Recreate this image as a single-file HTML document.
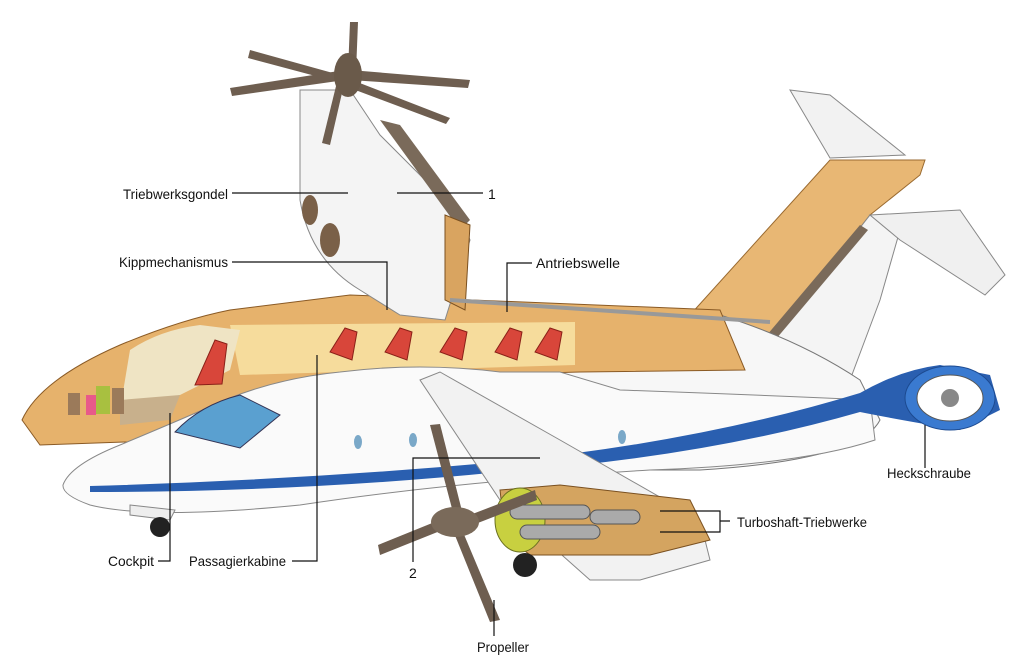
<!DOCTYPE html>
<html><head><meta charset="utf-8"><style>
html,body{margin:0;padding:0;background:#fff}
svg{display:block}
text{font-family:"Liberation Sans",sans-serif;font-size:14px;fill:#111}
</style></head><body>
<svg width="1024" height="660" viewBox="0 0 1024 660" xmlns="http://www.w3.org/2000/svg">
<!-- tail fin -->
<path d="M690 315 L830 160 L925 160 L920 175 L870 215 L760 355 Z" fill="#e8b774" stroke="#9a6a30"/>
<path d="M760 355 L870 215 L900 230 L880 300 L850 380 Z" fill="#f4f4f4" stroke="#888"/>
<path d="M790 90 L830 95 L905 155 L830 158 Z" fill="#f2f2f2" stroke="#888"/>
<path d="M750 355 L860 225 L868 230 L760 358 Z" fill="#7a6a5a"/>
<path d="M870 215 L960 210 L1005 275 L985 295 L900 240 Z" fill="#f0f0f0" stroke="#888"/>
<!-- rear fuselage -->
<path d="M330 330 L720 315 Q800 340 860 380 L880 420 Q860 460 700 470 L400 470 Z" fill="#f7f7f7" stroke="#777"/>
<!-- cutaway cabin -->
<path d="M22 420 Q40 380 120 345 Q180 320 230 310 L350 295 L720 310 L745 370 L580 372 L300 380 Q230 400 180 440 L40 445 Z" fill="#e6b26c" stroke="#8a5a25"/>
<path d="M230 325 L575 322 L575 365 L240 375 Z" fill="#f6dc9c"/>
<path d="M130 350 Q160 330 200 325 L240 330 L230 370 L180 395 L120 410 Z" fill="#efe4c4"/>
<path d="M120 400 L180 395 L170 420 L120 425 Z" fill="#c8b08c"/>
<g fill="#d8463a" stroke="#8a2018">
<path d="M330 352 l15 -24 l12 4 l-5 28 z"/><path d="M385 352 l15 -24 l12 4 l-5 28 z"/>
<path d="M440 352 l15 -24 l12 4 l-5 28 z"/><path d="M495 352 l15 -24 l12 4 l-5 28 z"/>
<path d="M535 352 l15 -24 l12 4 l-5 28 z"/><path d="M195 385 l20 -45 l12 4 l-5 40 z"/>
</g>
<rect x="68" y="393" width="12" height="22" fill="#9b7a5a"/>
<rect x="86" y="395" width="10" height="20" fill="#e85a8a"/>
<rect x="96" y="386" width="14" height="28" fill="#a8c040"/>
<rect x="112" y="388" width="12" height="26" fill="#9b7a5a"/>
<!-- white forward fuselage -->
<path d="M63 485 Q70 465 120 445 Q180 420 230 398 Q280 378 340 372 Q420 362 500 372 L560 372 L620 390 Q760 395 870 400 L875 440 Q800 465 650 470 Q450 482 300 505 Q150 520 90 505 Q62 495 63 485 Z" fill="#fafafa" stroke="#888"/>
<path d="M90 486 Q300 480 500 462 Q700 442 860 393 Q900 370 940 365 L990 375 L1000 410 L960 430 Q900 420 860 412 Q700 458 500 472 Q300 492 90 492 Z" fill="#2a5fb0"/>
<ellipse cx="950" cy="398" rx="45" ry="32" fill="#3a7ad0" stroke="#1c4a90"/>
<ellipse cx="950" cy="398" rx="33" ry="23" fill="#ffffff" stroke="#555"/>
<circle cx="950" cy="398" r="9" fill="#888"/>
<path d="M175 432 Q200 405 240 395 L280 415 L240 448 Z" fill="#5aa0d0" stroke="#335"/>
<g fill="#7aa8c8"><ellipse cx="358" cy="442" rx="4" ry="7"/><ellipse cx="413" cy="440" rx="4" ry="7"/><ellipse cx="622" cy="437" rx="4" ry="7"/></g>
<path d="M130 505 L175 510 L170 520 L130 515 Z" fill="#eee" stroke="#888"/>
<!-- main wing -->
<path d="M420 380 L440 372 L560 440 L700 520 L710 560 L640 580 L590 580 L500 500 Z" fill="#f2f2f2" stroke="#888"/>
<path d="M500 490 L560 485 L690 500 L710 540 L650 555 L530 555 L505 535 Z" fill="#d4a460" stroke="#7a5020"/>
<ellipse cx="520" cy="520" rx="25" ry="32" fill="#c8d040" stroke="#6a7020"/>
<g fill="#aaa" stroke="#555"><rect x="510" y="505" width="80" height="14" rx="7"/><rect x="520" y="525" width="80" height="14" rx="7"/><rect x="590" y="510" width="50" height="14" rx="7"/></g>
<g fill="#6e5e50">
<path d="M455 520 L430 425 L440 424 L463 515 Z"/><path d="M460 525 L500 620 L490 622 L452 528 Z"/>
<path d="M462 518 L535 490 L537 500 L465 528 Z"/><path d="M455 525 L380 555 L378 545 L452 515 Z"/>
</g>
<ellipse cx="455" cy="522" rx="24" ry="15" fill="#7a6a5a"/>
<circle cx="160" cy="527" r="10" fill="#222"/><circle cx="525" cy="565" r="12" fill="#222"/>
<!-- tilted nacelle -->
<path d="M300 90 L350 90 L380 135 L460 215 L470 240 L445 320 L400 315 L360 290 Q310 260 300 200 Z" fill="#f4f4f4" stroke="#888"/>
<path d="M380 120 L400 125 L470 220 L460 230 Z" fill="#7a6a5a"/>
<ellipse cx="310" cy="210" rx="8" ry="15" fill="#7a6048"/><ellipse cx="330" cy="240" rx="10" ry="17" fill="#7a6048"/>
<path d="M445 215 L470 225 L465 310 L445 300 Z" fill="#d9a460" stroke="#7a5020"/>
<g fill="#6e5e50">
<path d="M345 70 L230 88 L232 96 L345 80 Z"/><path d="M350 70 L470 80 L468 88 L350 80 Z"/>
<path d="M348 72 L350 22 L358 22 L356 72 Z"/><path d="M340 75 L250 50 L248 58 L338 82 Z"/>
<path d="M352 80 L450 118 L446 124 L350 88 Z"/><path d="M345 80 L330 145 L322 143 L338 78 Z"/>
</g>
<ellipse cx="348" cy="75" rx="14" ry="22" fill="#6a5a4a"/>
<line x1="450" y1="300" x2="770" y2="322" stroke="#999" stroke-width="4"/>
<!-- leader lines -->
<g stroke="#111" stroke-width="1.2" fill="none">
<path d="M232 193 H348"/><path d="M397 193 H483"/>
<path d="M232 262 H387 V310"/>
<path d="M532 263 H507 V312"/>
<path d="M925 468 V425"/>
<path d="M660 511 H720 V532 H660 M720 521 H730"/>
<path d="M158 561 H170 V413"/>
<path d="M292 561 H317 V355"/>
<path d="M413 562 V458 H540"/>
<path d="M494 636 V600"/>
</g>
<text x="123" y="199" textLength="105" lengthAdjust="spacingAndGlyphs">Triebwerksgondel</text>
<text x="488" y="199">1</text>
<text x="119" y="267" textLength="109" lengthAdjust="spacingAndGlyphs">Kippmechanismus</text>
<text x="536" y="268" textLength="84" lengthAdjust="spacingAndGlyphs">Antriebswelle</text>
<text x="887" y="478" textLength="84" lengthAdjust="spacingAndGlyphs">Heckschraube</text>
<text x="737" y="527" textLength="130" lengthAdjust="spacingAndGlyphs">Turboshaft-Triebwerke</text>
<text x="108" y="566" textLength="46" lengthAdjust="spacingAndGlyphs">Cockpit</text>
<text x="189" y="566" textLength="97" lengthAdjust="spacingAndGlyphs">Passagierkabine</text>
<text x="409" y="578">2</text>
<text x="477" y="652" textLength="52" lengthAdjust="spacingAndGlyphs">Propeller</text>
</svg>
</body></html>
